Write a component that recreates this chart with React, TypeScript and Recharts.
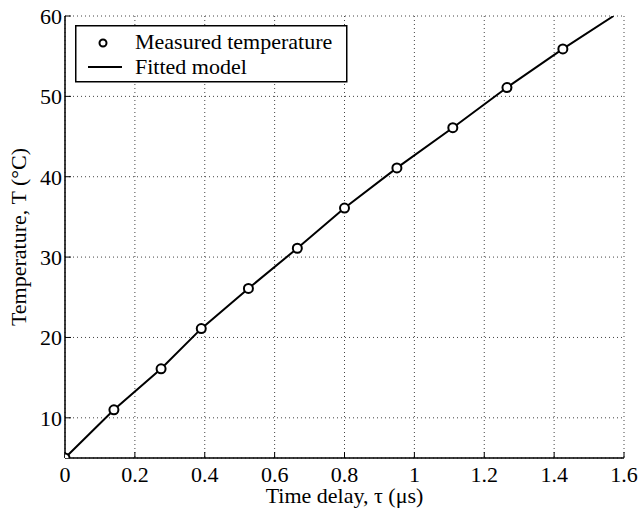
import React from 'react';
import { ComposedChart, Line, Scatter, XAxis, YAxis, CartesianGrid, Legend } from 'recharts';

const measuredDelay = [0, 0.14, 0.275, 0.39, 0.525, 0.665, 0.8, 0.95, 1.11, 1.265, 1.425];
const measuredTemp = [5.0, 11.0, 16.1, 21.1, 26.1, 31.1, 36.1, 41.1, 46.1, 51.1, 55.9];
const fittedDelay = [0, 0.14, 0.275, 0.39, 0.525, 0.665, 0.8, 0.95, 1.11, 1.265, 1.425, 1.57];
const fittedTemp = [5.0, 11.0, 16.1, 21.1, 26.1, 31.1, 36.1, 41.1, 46.1, 51.1, 55.9, 60.0];
const xTicks = [0, 0.2, 0.4, 0.6, 0.8, 1, 1.2, 1.4, 1.6];
const yTicks = [10, 20, 30, 40, 50, 60];

const measured = measuredDelay.map((x, i) => ({ x, T: measuredTemp[i] }));
const fitted = fittedDelay.map((x, i) => ({ x, T: fittedTemp[i] }));

const FONT = '"Liberation Serif", "Times New Roman", serif';
const FS = 22;

const LegendBox = () => (
  <svg width={273} height={58} style={{ display: 'block' }}>
    <rect x={0.75} y={0.75} width={271} height={56} fill="#fff" stroke="#000" strokeWidth={1.5} />
    <circle cx={28} cy={18} r={3.5} fill="none" stroke="#000" strokeWidth={2} />
    <line x1={13} x2={47} y1={42} y2={42} stroke="#000" strokeWidth={2} />
    <text x={60} y={24} fontFamily={FONT} fontSize={FS} fill="#000">Measured temperature</text>
    <text x={60} y={48.5} fontFamily={FONT} fontSize={FS} fill="#000">Fitted model</text>
  </svg>
);

const tickStyle = { fill: '#000', fontSize: FS, fontFamily: FONT };

export default function App() {
  return (
    <div style={{ position: 'absolute', left: 0, top: 0, width: 638, height: 508, background: '#fff' }}>
      <ComposedChart width={638} height={508} margin={{ top: 16, right: 14, left: 0, bottom: 0 }}>
        <CartesianGrid stroke="#444" strokeDasharray="1 3" strokeWidth={1} />
        <XAxis
          dataKey="x"
          type="number"
          domain={[0, 1.6]}
          ticks={xTicks}
          allowDataOverflow
          height={50}
          tick={tickStyle}
          tickSize={-6}
          tickMargin={14}
          tickFormatter={(v: number) => String(v)}
          axisLine={{ stroke: '#000', strokeWidth: 1.5 }}
          tickLine={{ stroke: '#000', strokeWidth: 1 }}
          label={{ value: 'Time delay, τ (μs)', position: 'insideBottom', offset: 5, style: { fill: '#000', fontSize: FS, fontFamily: FONT } }}
        />
        <XAxis
          xAxisId="top"
          orientation="top"
          type="number"
          domain={[0, 1.6]}
          ticks={xTicks}
          height={0}
          tick={false}
          tickSize={-6}
          axisLine={{ stroke: '#000', strokeWidth: 1.5 }}
          tickLine={{ stroke: '#000', strokeWidth: 1 }}
        />
        <YAxis
          type="number"
          domain={[5, 60]}
          ticks={yTicks}
          allowDataOverflow
          width={65}
          tick={tickStyle}
          tickSize={-6}
          tickMargin={9}
          axisLine={{ stroke: '#000', strokeWidth: 1.5 }}
          tickLine={{ stroke: '#000', strokeWidth: 1 }}
          label={{ value: 'Temperature, T (°C)', angle: -90, position: 'insideLeft', offset: 18, style: { textAnchor: 'middle', fill: '#000', fontSize: FS, fontFamily: FONT } }}
        />
        <YAxis
          yAxisId="right"
          orientation="right"
          type="number"
          domain={[5, 60]}
          ticks={yTicks}
          width={0}
          tick={false}
          tickSize={-6}
          axisLine={{ stroke: '#000', strokeWidth: 1.5 }}
          tickLine={{ stroke: '#000', strokeWidth: 1 }}
        />
        <Legend
          layout="horizontal"
          verticalAlign="middle"
          align="center"
          wrapperStyle={{ position: 'absolute', left: 75, top: 25, width: 273, height: 58 }}
          content={() => <LegendBox />}
        />
        <Line
          data={fitted}
          dataKey="T"
          type="linear"
          stroke="#000"
          strokeWidth={2}
          dot={false}
          activeDot={false}
          isAnimationActive={false}
          name="Fitted model"
        />
        <Scatter
          data={measured}
          dataKey="T"
          name="Measured temperature"
          isAnimationActive={false}
          shape={(p: any) => <circle cx={p.cx} cy={p.cy} r={4.5} fill="#fff" stroke="#000" strokeWidth={2} />}
        />
      </ComposedChart>
    </div>
  );
}
